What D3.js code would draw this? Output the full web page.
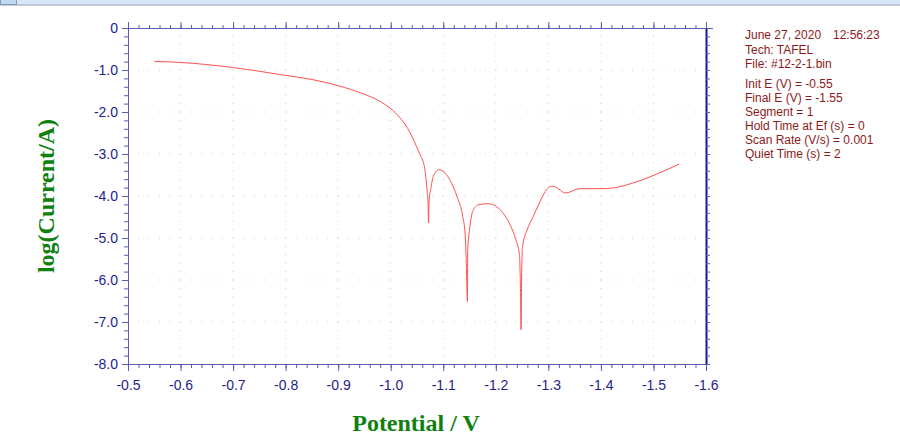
<!DOCTYPE html>
<html>
<head>
<meta charset="utf-8">
<script src="https://cdn.jsdelivr.net/npm/d3@7/dist/d3.min.js"></script>
<style>
  body { margin: 0; background: #fff; }
  svg { display: block; }
</style>
</head>
<body>
<div id="chart"></div>
<script>
// Tafel scan data (potential in V, log current in A)
const potential = [
  -0.550, -0.598, -0.698, -0.800, -0.852, -0.900, -0.947, -0.980, -0.999, -1.018,
  -1.037, -1.049, -1.056, -1.065, -1.069, -1.071, -1.072, -1.073, -1.076, -1.081,
  -1.092, -1.106, -1.126, -1.137, -1.142, -1.144, -1.146, -1.1465, -1.150, -1.156,
  -1.167, -1.185, -1.208, -1.227, -1.238, -1.245, -1.247, -1.248, -1.249, -1.251,
  -1.259, -1.271, -1.284, -1.294, -1.303, -1.309, -1.319, -1.332, -1.360, -1.398,
  -1.422, -1.461, -1.499, -1.549
];
const logCurrent = [
  -0.795, -0.819, -0.938, -1.129, -1.231, -1.374, -1.564, -1.748, -1.910, -2.143,
  -2.493, -2.819, -3.017, -3.369, -3.850, -4.150, -4.643, -4.100, -3.850, -3.533,
  -3.374, -3.493, -4.010, -4.486, -4.962, -5.700, -6.510, -5.300, -4.802, -4.367,
  -4.207, -4.183, -4.326, -4.683, -5.040, -5.400, -6.300, -7.183, -6.000, -5.200,
  -4.829, -4.493, -4.136, -3.898, -3.779, -3.767, -3.826, -3.929, -3.826, -3.826,
  -3.810, -3.690, -3.517, -3.238
];

const xMajor = [-0.5, -0.6, -0.7, -0.8, -0.9, -1.0, -1.1, -1.2, -1.3, -1.4, -1.5, -1.6];
const yMajor = [0, -1, -2, -3, -4, -5, -6, -7, -8];

const infoLines = [
  'Tech: TAFEL',
  'File: #12-2-1.bin',
  '',
  'Init E (V) = -0.55',
  'Final E (V) = -1.55',
  'Segment = 1',
  'Hold Time at Ef (s) = 0',
  'Scan Rate (V/s) = 0.001',
  'Quiet Time (s) = 2'
];

const width = 900, height = 437;
const plotLeft = 128, plotRight = 706, plotTop = 28, plotBottom = 364;

const svg = d3.select('#chart').append('svg')
  .attr('width', width)
  .attr('height', height)
  .style('font-family', 'Arial, "Liberation Sans", sans-serif');

// window chrome strip at the very top
svg.append('rect').attr('x', 0).attr('y', 0).attr('width', width).attr('height', 4.5).attr('fill', '#d6e6f8');
svg.append('line').attr('x1', 0).attr('x2', width).attr('y1', 5).attr('y2', 5).attr('stroke', '#8c9aa8').attr('stroke-width', 1);
svg.append('rect').attr('x', 0.5).attr('y', -1).attr('width', 16).attr('height', 5.5)
  .attr('fill', '#c2d8f2').attr('stroke', '#7f9db9');

const x = d3.scaleLinear().domain([-0.5, -1.6]).range([plotLeft, plotRight]);
const y = d3.scaleLinear().domain([0, -8]).range([plotTop, plotBottom]);

// plain hyphen instead of the unicode minus d3 uses
const fmt = d => d === 0 ? '0' : d3.format('.1f')(d).replace('\u2212', '-');

// minor tick values (5 intervals between majors)
const xMinor = d3.range(0, 56).map(i => +(-0.5 - i * 0.02).toFixed(3));
const yMinor = d3.range(0, 41).map(i => +(-i * 0.2).toFixed(2));

// dotted grid: dots sit at minor positions along each major line
const grid = svg.append('g').attr('fill', '#cdd4a2');
yMajor.slice(1, -1).forEach(v => {
  xMinor.slice(1, -1).forEach(u => {
    grid.append('rect').attr('x', x(u) - 0.5).attr('y', y(v) - 0.5).attr('width', 1).attr('height', 1);
  });
});
xMajor.slice(1, -1).forEach(u => {
  yMinor.slice(1, -1).forEach(v => {
    grid.append('rect').attr('x', x(u) - 0.5).attr('y', y(v) - 0.5).attr('width', 1).attr('height', 1);
  });
});

const axisColor = '#5a5ab8';
const labelColor = '#1e1e8c';

function styleAxis(g) {
  g.selectAll('path').attr('stroke', axisColor);
  g.selectAll('line').attr('stroke', axisColor);
  g.selectAll('text').attr('fill', labelColor).style('font-size', '14px').style('font-family', 'Arial, "Liberation Sans", sans-serif');
}

// bottom axis
svg.append('g').attr('transform', `translate(0,${plotBottom})`)
  .call(d3.axisBottom(x).tickValues(xMinor).tickSize(4).tickFormat('').tickSizeOuter(0))
  .call(styleAxis);
svg.append('g').attr('transform', `translate(0,${plotBottom})`)
  .call(d3.axisBottom(x).tickValues(xMajor).tickSize(7).tickPadding(9).tickFormat(fmt).tickSizeOuter(0))
  .call(styleAxis)
  .call(g => g.select('.domain').remove());

// top axis
svg.append('g').attr('transform', `translate(0,${plotTop})`)
  .call(d3.axisTop(x).tickValues(xMinor).tickSize(3).tickFormat('').tickSizeOuter(0))
  .call(styleAxis)
  .call(g => g.select('.domain').attr('d', `M${plotLeft},0.5H${plotRight + 7}`));
svg.append('g').attr('transform', `translate(0,${plotTop})`)
  .call(d3.axisTop(x).tickValues(xMajor).tickSize(6).tickFormat('').tickSizeOuter(0))
  .call(styleAxis)
  .call(g => g.select('.domain').remove());

// left axis
svg.append('g').attr('transform', `translate(${plotLeft},0)`)
  .call(d3.axisLeft(y).tickValues(yMinor).tickSize(4).tickFormat('').tickSizeOuter(0))
  .call(styleAxis);
svg.append('g').attr('transform', `translate(${plotLeft},0)`)
  .call(d3.axisLeft(y).tickValues(yMajor).tickSize(6).tickPadding(4).tickFormat(fmt).tickSizeOuter(0))
  .call(styleAxis)
  .call(g => g.select('.domain').remove());

// right axis (darker, heavier)
svg.append('g').attr('transform', `translate(${plotRight},0)`)
  .call(d3.axisRight(y).tickValues(yMinor).tickSize(4).tickFormat('').tickSizeOuter(0))
  .call(styleAxis)
  .call(g => g.select('.domain').attr('stroke', '#1414a0').attr('stroke-width', 2));

// curve
const pts = potential.map((p, i) => [p, logCurrent[i]]);
svg.append('path')
  .datum(pts)
  .attr('fill', 'none')
  .attr('stroke', '#ff5050')
  .attr('stroke-width', 1)
  .attr('d', d3.line().x(d => x(d[0])).y(d => y(d[1])).curve(d3.curveMonotoneX));

// axis titles
svg.append('text')
  .attr('x', (plotLeft + plotRight) / 2 - 1)
  .attr('y', 431)
  .attr('text-anchor', 'middle')
  .attr('fill', '#108010')
  .style('font-family', '"Liberation Serif", "Times New Roman", serif')
  .style('font-weight', 'bold')
  .style('font-size', '24px')
  .text('Potential / V');

svg.append('text')
  .attr('transform', `translate(54,${(plotTop + plotBottom) / 2}) rotate(-90)`)
  .attr('text-anchor', 'middle')
  .attr('fill', '#108010')
  .style('font-family', '"Liberation Serif", "Times New Roman", serif')
  .style('font-weight', 'bold')
  .style('font-size', '24px')
  .text('log(Current/A)');

// info block
const info = svg.append('g').attr('fill', '#8b1a1a').style('font-size', '12px');
info.append('text').attr('x', 745).attr('y', 38.6).text('June 27, 2020');
info.append('text').attr('x', 833).attr('y', 38.6).text('12:56:23');
infoLines.forEach((t, i) => {
  if (!t) return;
  const yy = i < 2 ? 53.6 + i * 14 : 88.3 + (i - 3) * 14;
  info.append('text').attr('x', 745).attr('y', yy).text(t);
});
</script>
</body>
</html>
